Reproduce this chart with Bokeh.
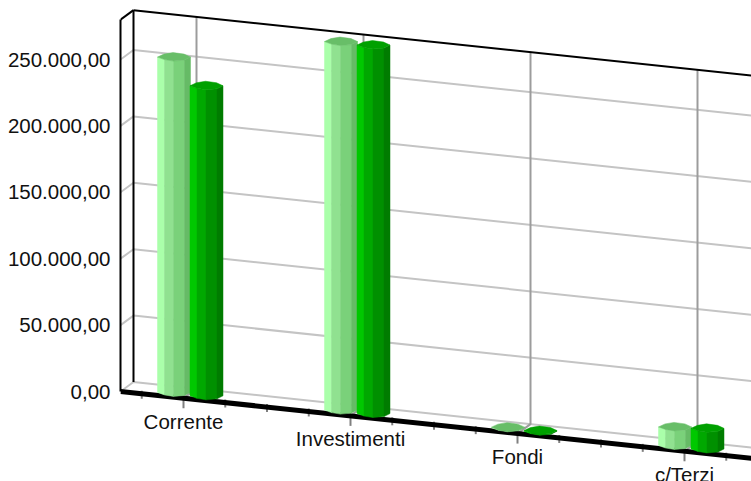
from bokeh.plotting import figure
from bokeh.models import Range1d, FixedTicker, LinearAxis
from bokeh.core.properties import value
from bokeh.embed import file_html
from bokeh.resources import INLINE

categories = ["Corrente", "Investimenti", "Fondi", "c/Terzi"]
series_light = [252500, 277500, 500, 14000]
series_dark = [233500, 277500, 500, 15500]
y_ticks = [0, 50000, 100000, 150000, 200000, 250000]
y_max = 280000

FONT = "Liberation Sans"
K = 332 / 250000      # screen px per unit of value
SLOPE = 0.106         # fall of the floor per px across
DEPTH_X, DEPTH_Y = 13, 9.5
ORIGIN_Y = 391
WIDTH_U = 631
CAT_START, CAT_STEP = 63, 167
SUB = 4               # tick intervals per category
BAR_DEPTH = 0.3

def X(u, d=0.0):
    return u + DEPTH_X * d

def Y(u, d=0.0, v=0.0, dy=0.0):
    # screen fall converted into value units, so the y axis scale holds
    return v - (SLOPE * u - DEPTH_Y * d + dy) / K

p = figure(width=751, height=481, output_backend="svg", toolbar_location=None,
           x_axis_location=None, y_axis_location=None,
           x_range=Range1d(0, WIDTH_U),
           y_range=Range1d((ORIGIN_Y - 481) / K, ORIGIN_Y / K),
           min_border_left=120, min_border_right=0, min_border_top=0, min_border_bottom=0,
           outline_line_color=None, background_fill_color="white", border_fill_color="white")
p.grid.visible = False

yaxis = LinearAxis(ticker=FixedTicker(ticks=y_ticks), bounds=(0, y_max),
                   major_label_overrides={t: f"{t:,.2f}".replace(",", "#").replace(".", ",").replace("#", ".") for t in y_ticks},
                   axis_line_color="black", axis_line_width=2,
                   major_tick_line_color=None, minor_tick_line_color=None,
                   major_tick_out=0, major_tick_in=0,
                   major_label_standoff=10,
                   major_label_text_font=FONT, major_label_text_font_size="20.5px",
                   major_label_text_color="#111111")
p.add_layout(yaxis, "left")

# wall and floor gridlines
GRID = "#C4C4C4"
for t in y_ticks:
    p.line([X(0), X(0, 1), X(WIDTH_U, 1)],
           [Y(0, 0, t), Y(0, 1, t), Y(WIDTH_U, 1, t)], line_color=GRID, line_width=2)
for i in range(len(categories)):
    u = CAT_START + CAT_STEP * i
    p.line([X(u), X(u, 1), X(u, 1)],
           [Y(u), Y(u, 1), Y(u, 1, y_max)], line_color="#9C9C9C", line_width=2)

# frame
p.line([X(0), X(0, 1)], [y_max, Y(0, 1, y_max)], line_color="black", line_width=2)
p.line([X(0, 1), X(0, 1)], [Y(0, 1), Y(0, 1, y_max)], line_color="black", line_width=2)
p.line([X(0, 1), X(WIDTH_U, 1)], [Y(0, 1, y_max), Y(WIDTH_U, 1, y_max)], line_color="black", line_width=2)

# category ticks
first = CAT_START - CAT_STEP / SUB
n = int((WIDTH_U - first) / (CAT_STEP / SUB)) + 1
for j in range(n):
    u = first + j * CAT_STEP / SUB
    major = j % SUB == 1
    p.line([u, u], [Y(u, 0, 0, -3), Y(u, 0, 0, 10 if major else 5)],
           line_color="#808080", line_width=2)

# front floor axis
p.line([X(0), X(WIDTH_U)], [Y(0), Y(WIDTH_U)], line_color="black", line_width=5)

# column facets
FACE_U = [-16.5, -9.5, -0.5, 10.5, 16.5]
FACE_DY = [-1.5, 1.0, 2.5, 1.5, -1.5]
BACK_U = [10, -1, -10]
BACK_DY = [-4.5, -6, -4.5]
LIGHT = ["#AAFFAA", "#90E190", "#7AD17A", "#66BB66"]
LIGHT_CAP = "#68BE68"
DARK = ["#00C800", "#00A800", "#009000", "#007C00"]
DARK_CAP = "#00A000"

xs, ys, cols = [], [], []
def column(uc, v, shades, cap):
    def pt(du, dy, val):
        u = uc + du
        return X(u, BAR_DEPTH), Y(uc, BAR_DEPTH, val, dy)
    for k in range(4):
        a, b = pt(FACE_U[k], FACE_DY[k], 0), pt(FACE_U[k + 1], FACE_DY[k + 1], 0)
        c, e = pt(FACE_U[k + 1], FACE_DY[k + 1], v), pt(FACE_U[k], FACE_DY[k], v)
        xs.append([a[0], b[0], c[0], e[0]])
        ys.append([a[1], b[1], c[1], e[1]])
        cols.append(shades[k])
    rim = [pt(du, dy, v) for du, dy in zip(FACE_U + BACK_U, FACE_DY + BACK_DY)]
    xs.append([q[0] for q in rim])
    ys.append([q[1] for q in rim])
    cols.append(cap)

for i in range(len(categories)):
    u = CAT_START + CAT_STEP * i
    column(u - 13.4, series_light[i], LIGHT, LIGHT_CAP)
    column(u + 19.1, series_dark[i], DARK, DARK_CAP)
p.patches(xs, ys, fill_color=cols, line_color=cols, line_width=0.5)

# category labels
lx = [CAT_START + CAT_STEP * i for i in range(len(categories))]
ly = [Y(u, 0, 0, 23) for u in lx]
p.text(lx, ly, text=categories, text_font=value(FONT), text_font_size="20.5px",
       text_align="center", text_baseline="alphabetic", text_color="#111111")

open("out.html", "w").write(file_html(p, INLINE))
